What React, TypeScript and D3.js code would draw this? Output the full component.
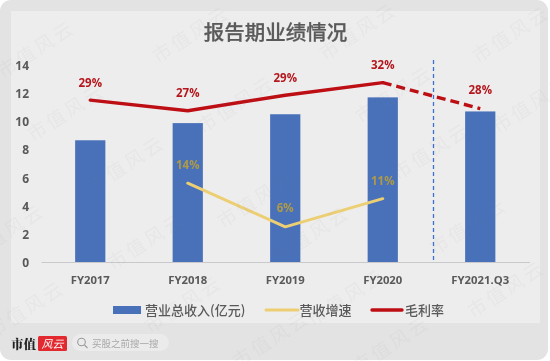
import React from "react";
import * as d3 from "d3";

const categories = ["FY2017", "FY2018", "FY2019", "FY2020", "FY2021.Q3"];
const revenue = [8.65, 9.87, 10.5, 11.7, 10.7];
const growthPos = [null, 5.6, 2.5, 4.5, null];
const growthLabels = ["", "14%", "6%", "11%", ""];
const marginPos = [11.5, 10.75, 11.85, 12.75, 10.9];
const marginLabels = ["29%", "27%", "29%", "32%", "28%"];
const yTicks = [0, 2, 4, 6, 8, 10, 12, 14];
const watermarks = [
  [40, 55], [195, 40], [362, 37], [515, 40], [70, 118], [240, 110], [398, 100], [535, 110],
  [130, 170], [435, 157], [260, 205], [10, 238], [150, 247], [315, 240], [472, 232],
  [30, 315], [187, 310], [350, 303], [510, 295], [395, 350], [275, 345],
];

const FONT = "'Noto Sans CJK SC', 'Noto Sans', sans-serif";
const SANS = "'Open Sans', 'Noto Sans', sans-serif";

export default function App() {
  const x = d3.scaleBand<string>().domain(categories).range([41.5, 529]).paddingInner(0.69).paddingOuter(0.345);
  const y = d3.scaleLinear().domain([0, 14]).range([262, 65]);
  const cx = (i: number) => (x(categories[i]) as number) + x.bandwidth() / 2;
  const line = d3.line<number[]>().x((d) => d[0]).y((d) => d[1]);
  const pts = (vals: (number | null)[]) =>
    vals.map((v, i) => (v == null ? null : [cx(i), y(v)])).filter(Boolean);
  const marginPts = pts(marginPos) as number[][];
  const growthPts = pts(growthPos) as number[][];
  const legendY = 310;
  return (
    <svg
      width={550}
      height={361}
      style={{ position: "absolute", left: 0, top: 0, display: "block", filter: "blur(0.4px)" }}
      fontFamily={FONT}
    >
      <rect x={0} y={0} width={550} height={361} fill="#ffffff" />
      <rect x={0} y={0} width={548} height={360} rx={11} fill="#e3e3e3" />
      <rect x={11} y={11} width={529} height={312} fill="#eeedee" />

      <text x={275.5} y={40} textAnchor="middle" fontSize={20.5} fontWeight={500} fill="#5a5a5a" stroke="#5a5a5a" strokeWidth={0.25}>
        报告期业绩情况
      </text>

      {yTicks.map((t) => (
        <text key={t} x={29} y={y(t) + 5} textAnchor="end" fontFamily={SANS} fontSize={12} fontWeight={700} fill="#595959">
          {t}
        </text>
      ))}

      {categories.map((c, i) => (
        <rect key={c} x={x(c)} y={y(revenue[i])} width={x.bandwidth()} height={y(0) - y(revenue[i])} fill="#4871ba" />
      ))}
      <line x1={41.5} x2={530} y1={262.5} y2={262.5} stroke="#c9c9cb" strokeWidth={1} />
      {categories.map((c, i) => (
        <text key={c} x={cx(i)} y={284} textAnchor="middle" fontFamily={SANS} fontSize={11.3} fontWeight={700} fill="#595959">
          {c}
        </text>
      ))}

      <line x1={433.5} x2={433.5} y1={60} y2={262} stroke="#3f6fd0" strokeWidth={1.3} strokeDasharray="4 3" />

      <path d={line(growthPts) as string} fill="none" stroke="#ecce73" strokeWidth={3} strokeLinecap="round" strokeLinejoin="round" />
      <path d={line(marginPts.slice(0, 4)) as string} fill="none" stroke="#bd0e14" strokeWidth={3.4} strokeLinecap="round" strokeLinejoin="round" />
      <path d={line(marginPts.slice(3)) as string} fill="none" stroke="#bd0e14" strokeWidth={3.4} strokeDasharray="9 5" />

      {marginLabels.map((l, i) => (
        <text key={l + i} x={cx(i)} y={y(marginPos[i]) - (i === 4 ? 15 : 13.5)} textAnchor="middle" fontFamily={SANS} fontSize={11.5} fontWeight={700} fill="#b4161b">
          {l}
        </text>
      ))}
      {growthLabels.map((l, i) =>
        l ? (
          <text key={l} x={cx(i)} y={i === 2 ? 212 : i === 1 ? 169 : 185} textAnchor="middle" fontFamily={SANS} fontSize={11.5} fontWeight={700} fill="#b09a45">
            {l}
          </text>
        ) : null
      )}

      <rect x={113} y={306} width={28} height={8} fill="#4871ba" />
      <text x={145} y={legendY + 5} fontSize={13} fontWeight={500} fill="#595959">营业总收入(亿元)</text>
      <line x1={266} x2={298} y1={legendY} y2={legendY} stroke="#ecce73" strokeWidth={3} strokeLinecap="round" />
      <text x={299.5} y={legendY + 5} fontSize={13} fontWeight={500} fill="#595959">营收增速</text>
      <line x1={372} x2={402} y1={legendY} y2={legendY} stroke="#bd0e14" strokeWidth={3.4} strokeLinecap="round" />
      <text x={405} y={legendY + 5} fontSize={13} fontWeight={500} fill="#595959">毛利率</text>

      <text x={11} y={349} fontFamily="'Noto Serif CJK SC', 'Noto Sans CJK SC', serif" fontSize={12.5} fontWeight={900} fill="#222222">市值</text>
      <rect x={38} y={336} width={29} height={15} rx={1.5} fill="#e2292f" />
      <text x={52.5} y={348} textAnchor="middle" fontSize={11} fontStyle="italic" fill="#ffffff">风云</text>
      <rect x={72} y={334} width={97} height={17} rx={8.5} fill="#ebebeb" />
      <circle cx={81.5} cy={342} r={3.8} fill="none" stroke="#9a9a9a" strokeWidth={1.1} />
      <line x1={84.5} y1={345} x2={87.5} y2={348} stroke="#9a9a9a" strokeWidth={1.1} />
      <text x={92} y={347} fontSize={9.5} fill="#a8a8a8">买股之前搜一搜</text>

      {watermarks.map(([wx, wy], i) => (
        <text
          key={i}
          transform={`translate(${wx},${wy}) rotate(-33)`}
          textAnchor="middle"
          fontSize={19}
          fontFamily="'Noto Sans CJK SC', sans-serif"
          letterSpacing={3}
          fill="#8a8a8a"
          fillOpacity={0.06}
        >
          市值风云
        </text>
      ))}
    </svg>
  );
}
